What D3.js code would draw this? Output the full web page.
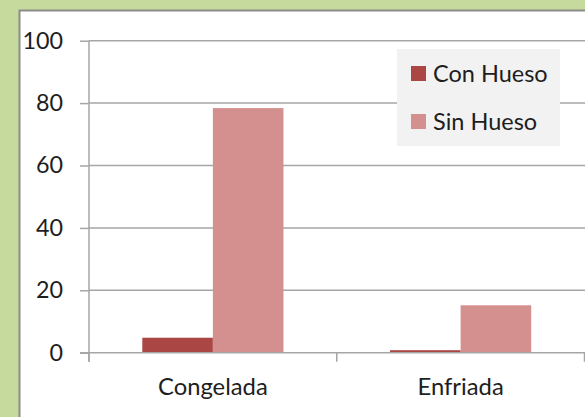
<!DOCTYPE html>
<html>
<head>
<meta charset="utf-8">
<script src="https://cdn.jsdelivr.net/npm/d3@7"></script>
<style>
  html, body { margin: 0; padding: 0; background: #c5da9c; }
  #chart { width: 585px; height: 417px; }
  text { font-family: Lato, "Open Sans", sans-serif; fill: #1e1e1e; }
</style>
</head>
<body>
<div id="chart"></div>
<script>
// --- DATA ---
const categories = ["Congelada", "Enfriada"];
const seriesNames = ["Con Hueso", "Sin Hueso"];
const conHueso = [4.8, 0.8];
const sinHueso = [78.4, 15.2];
const yTicks = [0, 20, 40, 60, 80, 100];

const seriesColors = ["#aa4644", "#d3908f"];

const width = 585, height = 417;
const svg = d3.select("#chart").append("svg")
    .attr("width", width)
    .attr("height", height);

// white chart panel with grey border (runs off right/bottom)
svg.append("rect")
    .attr("x", 19.5).attr("y", 10.5)
    .attr("width", 600).attr("height", 450)
    .attr("fill", "#fff")
    .attr("stroke", "#8c8c8c")
    .attr("stroke-width", 2);

// --- SCALES ---
const x0 = d3.scaleBand()
    .domain(categories)
    .range([89, 584.5])
    .paddingInner(0).paddingOuter(0);

const x1 = d3.scaleBand()
    .domain(seriesNames)
    .range([53.3, x0.bandwidth() - 53.3]);

const y = d3.scaleLinear()
    .domain([0, 100])
    .range([352.7, 40.7]);

// gridlines + y labels
const yAxis = svg.append("g")
    .attr("transform", "translate(89,0)")
    .call(d3.axisLeft(y).tickValues(yTicks).tickSize(9).tickPadding(17));
yAxis.select(".domain").remove();
yAxis.selectAll(".tick line").attr("stroke", "#a6a6a6").attr("stroke-width", 1.5);
yAxis.selectAll(".tick text").attr("font-size", 23.3).attr("fill", "#1e1e1e")
    .style("font-family", "Lato, sans-serif");

svg.append("g").selectAll("line")
    .data(yTicks.filter(d => d > 0))
    .enter().append("line")
    .attr("x1", 89).attr("x2", width)
    .attr("y1", d => y(d)).attr("y2", d => y(d))
    .attr("stroke", "#a6a6a6").attr("stroke-width", 1.5);

// bars
const rows = categories.map((c, i) => ({ cat: c, values: [conHueso[i], sinHueso[i]] }));
svg.append("g").selectAll("g")
    .data(rows)
    .enter().append("g")
    .attr("transform", d => `translate(${x0(d.cat)},0)`)
    .selectAll("rect")
    .data(d => d.values.map((v, j) => ({ name: seriesNames[j], value: v, j })))
    .enter().append("rect")
    .attr("x", d => x1(d.name))
    .attr("width", x1.bandwidth())
    .attr("y", d => y(d.value))
    .attr("height", d => y(0) - y(d.value))
    .attr("fill", d => seriesColors[d.j]);

// x axis
const xAxis = svg.append("g")
    .attr("transform", `translate(0,${y(0)})`)
    .call(d3.axisBottom(x0).tickSize(0).tickPadding(25));
xAxis.select(".domain").attr("stroke", "#a6a6a6").attr("stroke-width", 1.5)
    .attr("d", `M80,0H${width}`);
xAxis.selectAll(".tick text").attr("font-size", 23.8).attr("fill", "#1e1e1e")
    .style("font-family", "Lato, sans-serif");

// category separator ticks
svg.append("g").selectAll("line")
    .data([categories[0], categories[1]])
    .enter().append("line")
    .attr("x1", d => x0(d)).attr("x2", d => x0(d))
    .attr("y1", y(0)).attr("y2", y(0) + 9)
    .attr("stroke", "#a6a6a6").attr("stroke-width", 1.5);
svg.append("line")
    .attr("x1", 89).attr("x2", 89)
    .attr("y1", y(100)).attr("y2", y(0) + 9)
    .attr("stroke", "#a6a6a6").attr("stroke-width", 1.5);
svg.append("line")
    .attr("x1", x0.range()[1]).attr("x2", x0.range()[1])
    .attr("y1", y(0)).attr("y2", y(0) + 9)
    .attr("stroke", "#a6a6a6").attr("stroke-width", 1.5);

// --- LEGEND ---
const legend = svg.append("g").attr("transform", "translate(397,49)");
legend.append("rect")
    .attr("width", 163).attr("height", 97)
    .attr("fill", "#f2f2f2");
const items = legend.selectAll("g.item")
    .data(seriesNames)
    .enter().append("g")
    .attr("class", "item")
    .attr("transform", (d, i) => `translate(14,${17 + i * 48})`);
items.append("rect")
    .attr("width", 15).attr("height", 15)
    .attr("fill", (d, i) => seriesColors[i]);
items.append("text")
    .attr("x", 22).attr("y", 15.5)
    .attr("font-size", 23.5)
    .text(d => d);
</script>
</body>
</html>
